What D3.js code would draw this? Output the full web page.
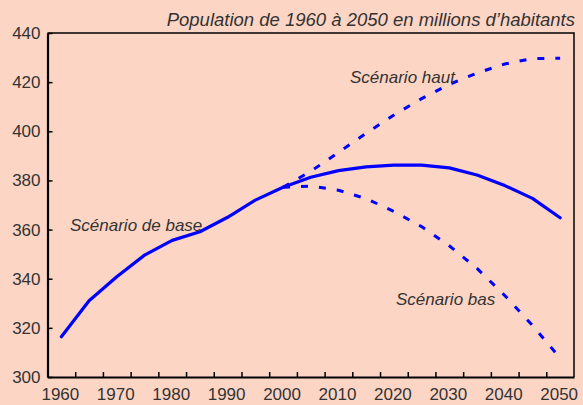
<!DOCTYPE html>
<html>
<head>
<meta charset="utf-8">
<script src="https://cdn.jsdelivr.net/npm/d3@7"></script>
<style>
  body { margin: 0; background: #fdd5c5; }
  svg { display: block; font-family: "Liberation Sans", Arial, sans-serif; }
  .axis text { fill: #333; font-size: 17px; }
  .note { fill: #333; font-size: 17px; font-style: italic; }
</style>
</head>
<body>
<div id="chart"></div>
<script>
// population en millions, tous les 5 ans
const years = d3.range(1960, 2051, 5);
const base = [316.4, 331, 340.8, 349.6, 355.6, 359.1, 365, 372, 377.2, 381.3,
              384, 385.5, 386.2, 386.2, 385.1, 382.2, 377.9, 372.7, 364.8];
const yearsProj = d3.range(2000, 2051, 5);
const haut = [377.2, 383.7, 391.4, 399.2, 406.6, 413.3, 419.1, 423.7, 427.4, 429.6, 429.7];
const bas = [377.2, 377.7, 376, 372.6, 367.4, 361.2, 353.4, 344.2, 333.2, 321, 307.7];
const yTicks = d3.range(300, 441, 20);
const xLabels = d3.range(1960, 2051, 10);

const title = "Population de 1960 à 2050 en millions d’habitants";

const width = 583, height = 405;
const plotLeft = 47.5, plotRight = 574, plotTop = 33, plotBottom = 377;

const svg = d3.select("#chart").append("svg")
    .attr("width", width)
    .attr("height", height);

svg.append("rect")
    .attr("width", width).attr("height", height)
    .attr("fill", "#fdd5c5");

// categories de 5 ans, ticks entre les categories
const x = d3.scaleLinear().domain([1957.5, 2052.5]).range([plotLeft, plotRight]);
const y = d3.scaleLinear().domain([300, 440]).range([plotBottom, plotTop]);

// cadre haut / droite
svg.append("path")
    .attr("d", `M${plotLeft},${plotTop}H${plotRight}V${plotBottom}`)
    .attr("fill", "none")
    .attr("stroke", "#000")
    .attr("stroke-width", 1.5);

// axe y
const yAxis = svg.append("g")
    .attr("class", "axis")
    .attr("transform", `translate(${plotLeft},0)`)
    .call(d3.axisLeft(y).tickValues(yTicks).tickSizeInner(-5).tickSizeOuter(0).tickPadding(7));
yAxis.select(".domain").attr("stroke-width", 2.2);
yAxis.selectAll(".tick line").attr("stroke-width", 1.5);

// axe x : traits tous les 5 ans
const xTickAxis = svg.append("g")
    .attr("class", "axis")
    .attr("transform", `translate(0,${plotBottom})`)
    .call(d3.axisBottom(x).tickValues(d3.range(1962.5, 2052.5, 5))
      .tickSizeInner(-5).tickSizeOuter(0).tickFormat(""));
xTickAxis.select(".domain").attr("stroke-width", 2.2);
xTickAxis.selectAll(".tick line").attr("stroke-width", 1.5);

// libelles des decennies
const xLabAxis = svg.append("g")
    .attr("class", "axis")
    .attr("transform", `translate(0,${plotBottom})`)
    .call(d3.axisBottom(x).tickValues(xLabels).tickSize(0).tickPadding(11).tickFormat(d3.format("d")));
xLabAxis.select(".domain").remove();
xLabAxis.selectAll(".tick text").attr("dx", -1.5);

const line = d3.line()
    .x(d => x(d[0]))
    .y(d => y(d[1]));

svg.append("path")
    .datum(d3.zip(years, base))
    .attr("d", line)
    .attr("fill", "none")
    .attr("stroke", "#0000ff")
    .attr("stroke-width", 3.2)
    .attr("stroke-linejoin", "round")
    .attr("stroke-linecap", "round");

[haut, bas].forEach(serie => {
  svg.append("path")
      .datum(d3.zip(yearsProj, serie))
      .attr("d", line)
      .attr("fill", "none")
      .attr("stroke", "#0000ff")
      .attr("stroke-width", 3)
      .attr("stroke-dasharray", "7,11");
});

// textes
svg.append("text")
    .attr("class", "note")
    .attr("x", 575).attr("y", 26)
    .attr("text-anchor", "end")
    .style("font-size", "18.5px")
    .text(title);

svg.append("text").attr("class", "note")
    .attr("x", 70).attr("y", 231)
    .text("Scénario de base");
svg.append("text").attr("class", "note")
    .attr("x", 350).attr("y", 83)
    .text("Scénario haut");
svg.append("text").attr("class", "note")
    .attr("x", 396).attr("y", 305)
    .text("Scénario bas");
</script>
</body>
</html>
